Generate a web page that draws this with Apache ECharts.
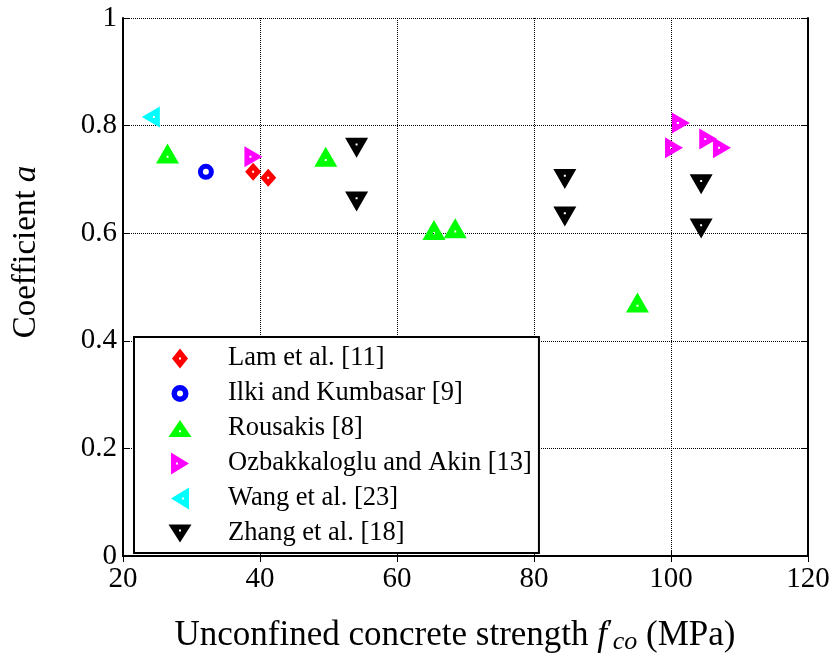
<!DOCTYPE html>
<html>
<head>
<meta charset="utf-8">
<script src="https://cdn.jsdelivr.net/npm/echarts@6/dist/echarts.min.js"></script>
<style>html,body{margin:0;padding:0;background:#fff}#c{width:838px;height:664px}</style>
</head>
<body>
<div id="c"></div>
<script>
// Data: [f'co (MPa), coefficient a]
const lamData = [[39.0, 0.714], [41.2, 0.703]];
const ilkiData = [[32.1, 0.714]];
const rousakisData = [[26.5, 0.742], [49.6, 0.736], [65.4, 0.600], [68.5, 0.603], [95.1, 0.465]];
const ozbakData = [[38.6, 0.742], [101.0, 0.805], [100.0, 0.759], [105.0, 0.775], [107.0, 0.759]];
const wangData = [[24.5, 0.816]];
const zhangData = [[54.1, 0.765], [54.1, 0.665], [84.5, 0.707], [84.5, 0.637], [104.4, 0.697], [104.4, 0.615]];

const seriesNames = ['Lam et al. [11]', 'Ilki and Kumbasar [9]', 'Rousakis [8]', 'Ozbakkaloglu and Akin [13]', 'Wang et al. [23]', 'Zhang et al. [18]'];
const xTicks = {min: 20, max: 120, interval: 20};
const yTicks = {min: 0, max: 1, interval: 0.2};

const FONT = '"Liberation Serif", "Times New Roman", serif';

// marker shapes (with the small white centre hole)
const SYM = {
  diamond: 'path://M8,0 L16,9 L8,18 L0,9 Z M7,8 L7,10 L9,10 L9,8 Z',
  ring: 'path://M0,8 A8,8 0 1,1 16,8 A8,8 0 1,1 0,8 Z M5,8 A3,3 0 1,0 11,8 A3,3 0 1,0 5,8 Z',
  up: 'path://M0,20 L11.5,0 L23,20 Z M10.5,12.3 L10.5,14.3 L12.5,14.3 L12.5,12.3 Z',
  down: 'path://M0,0 L23,0 L11.5,20 Z M10.5,5.7 L10.5,7.7 L12.5,7.7 L12.5,5.7 Z',
  right: 'path://M0,0 L18,10.5 L0,21 Z M5,9.5 L5,11.5 L7,11.5 L7,9.5 Z',
  left: 'path://M18,0 L0,10.5 L18,21 Z M11,9.5 L13,9.5 L13,11.5 L11,11.5 Z'
};
// legend icons drawn in a 24x22 box (tiny corner points fix the box)
const BOX = 'M0,0 L0.01,0 L0,0.01 Z M24,22 L23.99,22 L24,21.99 Z ';
const LEG = {
  diamond: 'path://' + BOX + 'M12,1 L20,11 L12,21 L4,11 Z M11,10 L11,12 L13,12 L13,10 Z',
  ring: 'path://' + BOX + 'M3.5,11 A8.5,8.5 0 1,1 20.5,11 A8.5,8.5 0 1,1 3.5,11 Z M9,11 A3,3 0 1,0 15,11 A3,3 0 1,0 9,11 Z',
  up: 'path://' + BOX + 'M0.5,19.5 L12,2.5 L23.5,19.5 Z M11,12.8 L11,14.8 L13,14.8 L13,12.8 Z',
  right: 'path://' + BOX + 'M3,0 L21,11 L3,22 Z M8,10 L8,12 L10,12 L10,10 Z',
  left: 'path://' + BOX + 'M21,0 L3,11 L21,22 Z M14,10 L16,10 L16,12 L14,12 Z',
  down: 'path://' + BOX + 'M0.5,2 L23.5,2 L12,20 Z M11,7 L11,9 L13,9 L13,7 Z'
};

const chart = echarts.init(document.getElementById('c'), null, {renderer: 'canvas'});

const gridLine = {show: true, lineStyle: {color: '#000', type: [1, 1], width: 1}};
const axisLine = {show: true, lineStyle: {color: '#000', width: 2}};
const tick = {show: true, inside: true, length: 6, lineStyle: {color: '#000', width: 1}};

chart.setOption({
  animation: false,
  backgroundColor: '#fff',
  grid: {left: 123, right: 30, top: 18, bottom: 108},
  xAxis: [
    {type: 'value', min: xTicks.min, max: xTicks.max, interval: xTicks.interval,
     axisLine: axisLine, axisTick: tick,
     axisLabel: {color: '#000', fontFamily: FONT, fontSize: 29, margin: 9},
     splitLine: gridLine},
    {type: 'value', position: 'top', min: xTicks.min, max: xTicks.max, interval: xTicks.interval,
     axisLine: axisLine, axisTick: tick, axisLabel: {show: false}, splitLine: {show: false}}
  ],
  yAxis: [
    {type: 'value', min: yTicks.min, max: yTicks.max, interval: yTicks.interval,
     axisLine: axisLine, axisTick: tick,
     axisLabel: {color: '#000', fontFamily: FONT, fontSize: 29, margin: 6},
     splitLine: gridLine},
    {type: 'value', position: 'right', min: yTicks.min, max: yTicks.max, interval: yTicks.interval,
     axisLine: axisLine, axisTick: tick, axisLabel: {show: false}, splitLine: {show: false}}
  ],
  legend: {
    orient: 'vertical', left: 134, top: 337,
    data: [
      {name: seriesNames[0], icon: LEG.diamond},
      {name: seriesNames[1], icon: LEG.ring},
      {name: seriesNames[2], icon: LEG.up},
      {name: seriesNames[3], icon: LEG.right},
      {name: seriesNames[4], icon: LEG.left},
      {name: seriesNames[5], icon: LEG.down}
    ],
    backgroundColor: '#fff', borderColor: '#000', borderWidth: 2,
    padding: [8, 7, 6, 34],
    itemWidth: 24, itemHeight: 22, itemGap: 8,
    textStyle: {color: '#000', fontFamily: FONT, fontSize: 26.5, padding: [0, 0, 0, 31]}
  },
  series: [
    {name: seriesNames[0], type: 'scatter', data: lamData, z: 5, symbol: SYM.diamond, symbolSize: [16, 18],
     itemStyle: {color: '#ff0000', opacity: 1}},
    {name: seriesNames[1], type: 'scatter', data: ilkiData, symbol: SYM.ring, symbolSize: 16,
     itemStyle: {color: '#0000ff', opacity: 1}},
    {name: seriesNames[2], type: 'scatter', data: rousakisData, symbol: SYM.up, symbolSize: [23, 20], symbolOffset: [0, -3.3],
     itemStyle: {color: '#00ff00', opacity: 1}},
    {name: seriesNames[3], type: 'scatter', data: ozbakData, symbol: SYM.right, symbolSize: [18, 21], symbolOffset: [3, 0],
     itemStyle: {color: '#ff00ff', opacity: 1}},
    {name: seriesNames[4], type: 'scatter', data: wangData, symbol: SYM.left, symbolSize: [18, 21], symbolOffset: [-3, 0],
     itemStyle: {color: '#00ffff', opacity: 1}},
    {name: seriesNames[5], type: 'scatter', data: zhangData, symbol: SYM.down, symbolSize: [23, 20], symbolOffset: [0, 3.3],
     itemStyle: {color: '#000000', opacity: 1}}
  ],
  graphic: [
    {type: 'text', x: 455, y: 636,
     style: {
       text: '{n|Unconfined concrete strength }{f|f}{p|′}{s|co}{n| (MPa)}',
       align: 'center', verticalAlign: 'middle',
       rich: {
         n: {fontFamily: FONT, fontSize: 35, fill: '#000'},
         f: {fontFamily: FONT, fontSize: 35, fontStyle: 'italic', fill: '#000'},
         p: {fontFamily: FONT, fontSize: 26, fill: '#000', verticalAlign: 'top', padding: [0, 0, 10, 0]},
         s: {fontFamily: FONT, fontSize: 26, fontStyle: 'italic', fill: '#000', padding: [12, 0, 0, 0]}
       }
     }},
    {type: 'text', x: 26, y: 252, rotation: Math.PI / 2,
     style: {
       text: '{n|Coefficient }{i|a}',
       align: 'center', verticalAlign: 'middle',
       rich: {
         n: {fontFamily: FONT, fontSize: 33, fill: '#000'},
         i: {fontFamily: FONT, fontSize: 33, fontStyle: 'italic', fill: '#000'}
       }
     }}
  ]
});
</script>
</body>
</html>
